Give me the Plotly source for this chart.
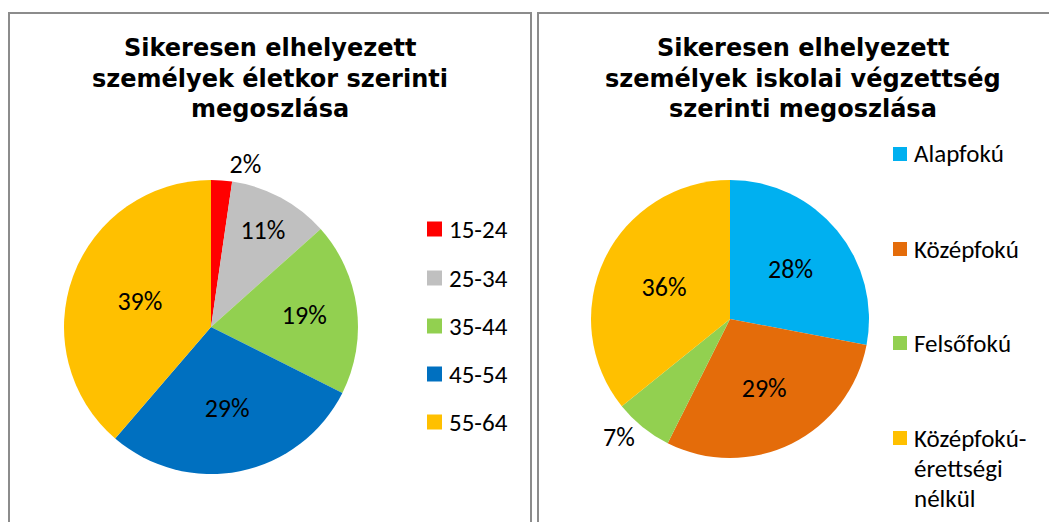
import plotly.graph_objects as go

W, H = 1057, 522
OFF = 8  # page body margin offset

# ---- data ----
age_groups = ["15-24", "25-34", "35-44", "45-54", "55-64"]
age_values = [2.3, 11.1, 19.0, 28.9, 38.7]
age_colors = ["#FF0000", "#C0C0C0", "#92D050", "#0070C0", "#FFC000"]
age_textpos = ["outside", "inside", "inside", "inside", "inside"]
age_title = ["Sikeresen elhelyezett", "személyek életkor szerinti", "megoszlása"]

edu_groups = ["Alapfokú", "Középfokú", "Felsőfokú", "Középfokú-<br>érettségi<br>nélkül"]
edu_values = [28.0, 29.4, 6.8, 35.8]
edu_colors = ["#00B0F0", "#E46C0A", "#92D050", "#FFC000"]
edu_textpos = ["inside", "inside", "outside", "inside"]
edu_title = ["Sikeresen elhelyezett", "személyek iskolai végzettség", "szerinti megoszlása"]


def px(x):
    return (x - OFF) / W


def py(y):
    return 1 - (y - OFF) / H


LABEL_FONT = dict(family="Calibri, Carlito, Lato, sans-serif", size=26, color="#000000")
LEGEND_FONT = dict(family="Calibri, Carlito, Lato, sans-serif", size=25, color="#000000")
TITLE_FONT = dict(family="Verdana, DejaVu Sans, sans-serif", size=24, color="#000000")

fig = go.Figure()

fig.add_trace(go.Pie(
    labels=age_groups, values=age_values,
    marker=dict(colors=age_colors, line=dict(width=0)),
    sort=False, direction="clockwise", rotation=0,
    textposition=age_textpos, texttemplate="%{percent:.0%}",
    textfont=LABEL_FONT, insidetextorientation="horizontal",
    domain=dict(x=[px(64), px(358)], y=[py(474), py(180)]),
    showlegend=False, hoverinfo="label+percent",
))

fig.add_trace(go.Pie(
    labels=edu_groups, values=edu_values,
    marker=dict(colors=edu_colors, line=dict(width=0)),
    sort=False, direction="clockwise", rotation=0,
    textposition=edu_textpos, texttemplate="%{percent:.0%}",
    textfont=LABEL_FONT, insidetextorientation="horizontal",
    domain=dict(x=[px(591), px(869)], y=[py(458), py(180)]),
    showlegend=False, hoverinfo="label+percent",
))

shapes = []
annotations = []

# panel borders
border = dict(color="#8C8C8C", width=2)
shapes.append(dict(type="rect", xref="paper", yref="paper",
                   x0=px(9), x1=px(531), y0=py(560), y1=py(13), line=border))
shapes.append(dict(type="rect", xref="paper", yref="paper",
                   x0=px(538), x1=px(1090), y0=py(560), y1=py(13), line=border))

# titles
for i, line in enumerate(age_title):
    annotations.append(dict(x=px(270), y=py(48 + i * 30.5), xref="paper", yref="paper",
                            text="<b>%s</b>" % line, showarrow=False,
                            xanchor="center", yanchor="middle", font=TITLE_FONT))
for i, line in enumerate(edu_title):
    annotations.append(dict(x=px(803), y=py(48 + i * 30.5), xref="paper", yref="paper",
                            text="<b>%s</b>" % line, showarrow=False,
                            xanchor="center", yanchor="middle", font=TITLE_FONT))

# manual legends
age_leg_y = [229, 278, 326, 374, 422]
for name, col, yy in zip(age_groups, age_colors, age_leg_y):
    shapes.append(dict(type="rect", xref="paper", yref="paper",
                       x0=px(427), x1=px(442), y0=py(yy + 7.5), y1=py(yy - 7.5),
                       fillcolor=col, line=dict(width=0)))
    annotations.append(dict(x=px(447), y=py(yy), xref="paper", yref="paper",
                            text=name, showarrow=False, xanchor="left", yanchor="middle",
                            font=LEGEND_FONT))

edu_leg_y = [154, 249, 343, 438]
for name, col, yy in zip(edu_groups, edu_colors, edu_leg_y):
    shapes.append(dict(type="rect", xref="paper", yref="paper",
                       x0=px(893), x1=px(907), y0=py(yy + 7), y1=py(yy - 7),
                       fillcolor=col, line=dict(width=0)))
    parts = name.split("<br>")
    for j, part in enumerate(parts):
        annotations.append(dict(x=px(912), y=py(yy + j * 30), xref="paper", yref="paper",
                                text=part, showarrow=False, xanchor="left", yanchor="middle",
                                font=LEGEND_FONT))

fig.update_layout(
    width=W, height=H,
    margin=dict(l=0, r=0, t=0, b=0),
    paper_bgcolor="white", plot_bgcolor="white",
    shapes=shapes, annotations=annotations,
)

fig.write_html("out.html")
